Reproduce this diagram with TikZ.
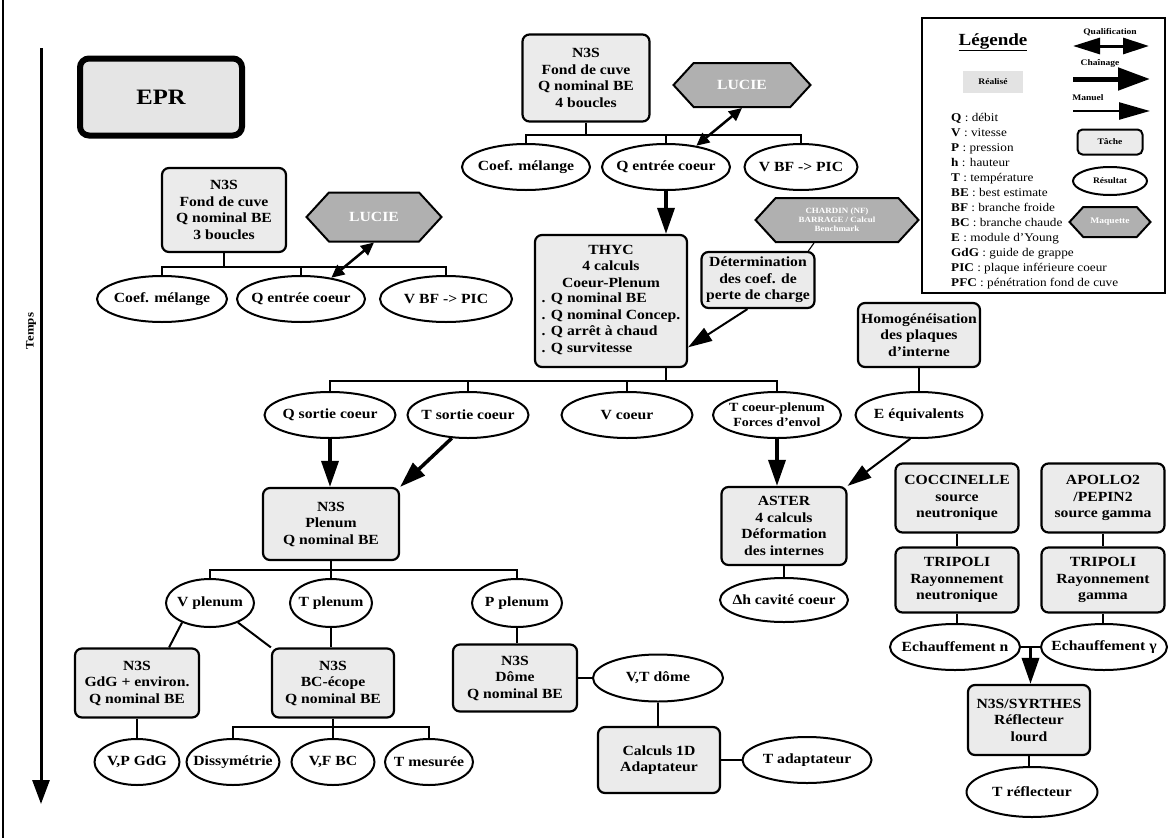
\documentclass[tikz,border=0pt]{standalone}
\usepackage{fontspec}
\setmainfont[FakeStretch=1.12]{Liberation Serif}
\usetikzlibrary{shapes.geometric,shapes.symbols,arrows.meta,calc}
\begin{document}
\begin{tikzpicture}[x=1pt,y=-1pt,
  every node/.style={font=\bfseries\fontsize{14}{16.5}\selectfont, align=center, inner sep=0pt},
  tache/.style={draw, rounded corners=7pt, line width=2.2pt, fill=gray!16},
  res/.style={draw, ellipse, line width=2pt, fill=white, minimum height=46pt, inner xsep=-11pt},
  maq/.style={draw, signal, signal to=east and west, signal pointer angle=95, line width=2pt, fill=gray!62, text=white},
  link/.style={line width=2pt},
  thinlink/.style={line width=1.1pt},
  chain/.style={line width=3.5pt, -{Triangle[length=26pt,width=17pt]}},
  manu/.style={line width=2pt, -{Triangle[length=24pt,width=15pt]}},
  qual/.style={line width=2.5pt, {Triangle[length=13pt,width=12pt]}-{Triangle[length=13pt,width=12pt]}},
  small/.style={font=\bfseries\fontsize{8.5}{9.5}\selectfont},
]
\useasboundingbox (0,0) rectangle (1176,838);
\fill[white] (0,0) rectangle (1176,838);
% frame line
\coordinate (fa) at (3,0);
\coordinate (fb) at (3,838);
\draw[line width=1.5pt] (fa) -- (fb);

% time axis
\coordinate (t0) at (41,48);
\coordinate (t1) at (41,804);
\draw[line width=3pt, -{Triangle[length=24pt,width=17pt]}] (t0) -- (t1);
\node[rotate=90, font=\bfseries\fontsize{11.5}{13}\selectfont] (temps) at (31,331) {Temps};

% EPR
\node[draw, rounded corners=9pt, line width=6pt, fill=gray!20, minimum width=162pt, minimum height=77pt,
      font=\bfseries\fontsize{22}{24}\selectfont] (EPR) at (161,97) {EPR};

% ---------- group A (3 boucles)
\node[tache, minimum width=124pt, minimum height=84pt] (NA) at (224,210) {N3S\\Fond de cuve\\Q nominal BE\\3 boucles};
\node[maq, minimum width=135pt, minimum height=49pt] (LA) at (374,217) {LUCIE};
\node[res, minimum width=130pt] (CoefA) at (162,299) {Coef. mélange};
\node[res, minimum width=128pt] (QinA) at (301,299) {Q entrée coeur};
\node[res, minimum width=132pt] (VBFA) at (446,299) {V BF -> PIC};
\coordinate (busA) at (0,267);
\draw[link] (CoefA.north) -- (CoefA.north |- busA) -- (VBFA.north |- busA) -- (VBFA.north);
\draw[link] (QinA.north) -- (QinA.north |- busA);
\draw[link] (NA.south) -- (NA.south |- busA);
\draw[qual] (QinA.35) -- (LA.south);

% ---------- group B (4 boucles)
\node[tache, minimum width=127pt, minimum height=87pt] (NB) at (586,78) {N3S\\Fond de cuve\\Q nominal BE\\4 boucles};
\node[maq, minimum width=137pt, minimum height=44pt] (LB) at (742,85) {LUCIE};
\node[res, minimum width=128pt] (CoefB) at (526,167) {Coef. mélange};
\node[res, minimum width=128pt] (QinB) at (666,167) {Q entrée coeur};
\node[res, minimum width=113pt] (VBFB) at (801,167) {V BF -> PIC};
\coordinate (busB) at (0,135);
\draw[link] (CoefB.north) -- (CoefB.north |- busB) -- (VBFB.north |- busB) -- (VBFB.north);
\draw[link] (QinB.north) -- (QinB.north |- busB);
\draw[link] (NB.south) -- (NB.south |- busB);
\draw[qual] (QinB.35) -- (LB.south);

% ---------- THYC
\node[tache, minimum width=152pt, minimum height=132pt] (THYC) at (611,301)
  {THYC\\4 calculs\\Coeur-Plenum\\[3pt]
   \begin{tabular}{@{}l@{}}. Q nominal BE\\. Q nominal Concep.\\. Q arrêt à chaud\\. Q survitesse\end{tabular}};
\draw[chain] (QinB.south) -- (QinB.south |- THYC.north);
\node[maq, minimum width=163pt, minimum height=44pt, font=\bfseries\fontsize{8}{9}\selectfont] (HexC) at (837,220)
  {CHARDIN (NF)\\BARRAGE / Calcul\\Benchmark};
\node[tache, minimum width=113pt, minimum height=56pt] (Det) at (758,280) {Détermination\\des coef. de\\perte de charge};
\draw[thinlink] (HexC.225) -- (Det.30);
\draw[manu] (Det.250) -- (THYC.329);
\node[tache, minimum width=122pt, minimum height=64pt] (Homog) at (919,335) {Homogénéisation\\des plaques\\d'interne};

% ---------- row C
\node[res, minimum width=131pt] (Qs) at (330,415) {Q sortie coeur};
\node[res, minimum width=121pt] (Ts) at (468,415) {T sortie coeur};
\node[res, minimum width=131pt] (Vc) at (627,415) {V coeur};
\node[res, minimum width=128pt, font=\bfseries\fontsize{12.5}{15}\selectfont] (Tcp) at (777,415) {T coeur-plenum\\Forces d'envol};
\node[res, minimum width=127pt] (Eq) at (919,415) {E équivalents};
\coordinate (busC) at (0,381);
\draw[link] (Qs.north) -- (Qs.north |- busC) -- (Tcp.north |- busC) -- (Tcp.north);
\draw[link] (Ts.north) -- (Ts.north |- busC);
\draw[link] (Vc.north) -- (Vc.north |- busC);
\draw[link] (QinB.south |- THYC.south) -- (QinB.south |- busC);
\draw[link] (Homog.south) -- (Homog.south |- Eq.north);

% ---------- Plenum
\node[tache, minimum width=136pt, minimum height=72pt] (PL) at (331,524) {N3S\\Plenum\\Q nominal BE};
\draw[chain] (Qs.south) -- (Qs.south |- PL.north);
\draw[chain] (Ts.235) -- (PL.north east);

% ---------- ASTER
\node[tache, minimum width=125pt, minimum height=78pt] (ASTER) at (784,526) {ASTER\\4 calculs\\Déformation\\des internes};
\draw[chain] (Tcp.south) -- (Tcp.south |- ASTER.north);
\draw[manu] (Eq.250) -- (ASTER.north east);
\node[res, minimum width=128pt, minimum height=44pt] (Dh) at (784,600) {Δh cavité coeur};
\draw[link] (ASTER.south) -- (ASTER.south |- Dh.north);

% ---------- right column
\node[tache, minimum width=123pt, minimum height=69pt] (COC) at (957,498) {COCCINELLE\\source\\neutronique};
\node[tache, minimum width=123pt, minimum height=69pt] (APO) at (1103,498) {APOLLO2\\/PEPIN2\\source gamma};
\node[tache, minimum width=123pt, minimum height=65pt] (TRn) at (957,580) {TRIPOLI\\Rayonnement\\neutronique};
\node[tache, minimum width=123pt, minimum height=65pt] (TRg) at (1103,580) {TRIPOLI\\Rayonnement\\gamma};
\draw[link] (COC.south) -- (COC.south |- TRn.north);
\draw[link] (APO.south) -- (APO.south |- TRg.north);
\node[res, minimum width=130pt] (Ehn) at (955,647) {Echauffement n};
\node[res, minimum width=126pt] (Ehg) at (1104,647) {Echauffement γ};
\draw[link] (TRn.south) -- (TRn.south |- Ehn.north);
\draw[link] (TRg.south) -- (TRg.south |- Ehg.north);
\draw[link] (Ehn.east) -- (Ehg.west);
\coordinate (J) at ($(Ehn.east)!0.5!(Ehg.west)$);
\node[tache, minimum width=122pt, minimum height=70pt] (SYR) at (1029,720) {N3S/SYRTHES\\Réflecteur\\lourd};
\draw[chain] (J) -- (J |- SYR.north);
\node[res, minimum width=131pt, minimum height=50pt] (Tr) at (1032,792) {T réflecteur};
\draw[link] (SYR.south) -- (SYR.south |- Tr.north);

% ---------- plenum outputs
\node[res, minimum width=88pt, minimum height=48pt] (Vp) at (210,603) {V plenum};
\node[res, minimum width=82pt, minimum height=48pt] (Tp) at (331,603) {T plenum};
\node[res, minimum width=90pt, minimum height=48pt] (Pp) at (517,603) {P plenum};
\coordinate (busP) at (0,570);
\draw[link] (Vp.north) -- (Vp.north |- busP) -- (Pp.north |- busP) -- (Pp.north);
\draw[link] (PL.south) -- (Tp.north);

\node[tache, minimum width=124pt, minimum height=69pt] (GdG) at (137,683) {N3S\\GdG + environ.\\Q nominal BE};
\node[tache, minimum width=122pt, minimum height=69pt] (BCe) at (333,683) {N3S\\BC-écope\\Q nominal BE};
\node[tache, minimum width=124pt, minimum height=67pt] (Dome) at (515,678) {N3S\\Dôme\\Q nominal BE};
\draw[link] (Vp.215) -- (GdG.48);
\draw[link] (Vp.325) -- (BCe.north west);
\draw[link] (Tp.south) -- (Tp.south |- BCe.north);
\draw[link] (Pp.south) -- (Pp.south |- Dome.north);

\node[res, minimum width=85pt] (VPG) at (137,762) {V,P GdG};
\node[res, minimum width=93pt] (Dis) at (233,762) {Dissymétrie};
\node[res, minimum width=83pt] (VFBC) at (333,762) {V,F BC};
\node[res, minimum width=88pt] (Tmes) at (429,762) {T mesurée};
\coordinate (busBC) at (0,727);
\draw[link] (Dis.north) -- (Dis.north |- busBC) -- (Tmes.north |- busBC) -- (Tmes.north);
\draw[link] (BCe.south) -- (VFBC.north);
\draw[thinlink] (GdG.south) -- (VPG.north);

\node[res, minimum width=130pt, minimum height=47pt] (VTd) at (658,678) {V,T dôme};
\draw[link] (Dome.east) -- (VTd.west);
\node[tache, minimum width=122pt, minimum height=66pt] (C1D) at (659,760) {Calculs 1D\\Adaptateur};
\draw[link] (VTd.south) -- (VTd.south |- C1D.north);
\node[res, minimum width=129pt] (Tad) at (807,760) {T adaptateur};
\draw[link] (C1D.east) -- (Tad.west);

% ---------- legend
\node[draw, line width=2pt, fill=white, minimum width=243pt, minimum height=275pt] (leg) at (1043.5,155.5) {};
\node[font=\bfseries\fontsize{17}{19}\selectfont] (legt) at (993,42) {\underline{Légende}};
\node[fill=gray!22, minimum width=60pt, minimum height=22pt, small] (legr) at (993,82) {Réalisé};
\node[small] (lq) at (1110,32) {Qualification};
\node[small] (lc) at (1100,63) {Chaînage};
\node[small] (lm) at (1088,98) {Manuel};
\coordinate (qa1) at (1073,46); \coordinate (qa2) at (1149,46);
\coordinate (ca1) at (1073,79); \coordinate (ca2) at (1150,79);
\coordinate (ma1) at (1073,111); \coordinate (ma2) at (1150,111);
\draw[line width=3pt, {Triangle[length=27pt,width=16pt]}-{Triangle[length=26pt,width=16pt]}] (qa1) -- (qa2);
\draw[line width=5pt, -{Triangle[length=32pt,width=22pt]}] (ca1) -- (ca2);
\draw[line width=2.5pt, -{Triangle[length=31pt,width=17pt]}] (ma1) -- (ma2);
\node[tache, rounded corners=5pt, line width=2pt, minimum width=65pt, minimum height=25pt, small] (ltache) at (1110,142) {Tâche};
\node[draw, ellipse, line width=2pt, fill=white, minimum width=74pt, minimum height=28pt, small] (lres) at (1110,181) {Résultat};
\node[maq, minimum width=81pt, minimum height=30pt, small] (lmaq) at (1110,222) {Maquette};
\node[anchor=north west, align=left, font=\fontsize{11.8}{15}\selectfont] (legl) at (951,113)
 {\textbf{Q} : débit\\
  \textbf{V} : vitesse\\
  \textbf{P} : pression\\
  \textbf{h} : hauteur\\
  \textbf{T} : température\\
  \textbf{BE} : best estimate\\
  \textbf{BF} : branche froide\\
  \textbf{BC} : branche chaude\\
  \textbf{E} : module d'Young\\
  \textbf{GdG} : guide de grappe\\
  \textbf{PIC} : plaque inférieure coeur\\
  \textbf{PFC} : pénétration fond de cuve};
\end{tikzpicture}
\end{document}
